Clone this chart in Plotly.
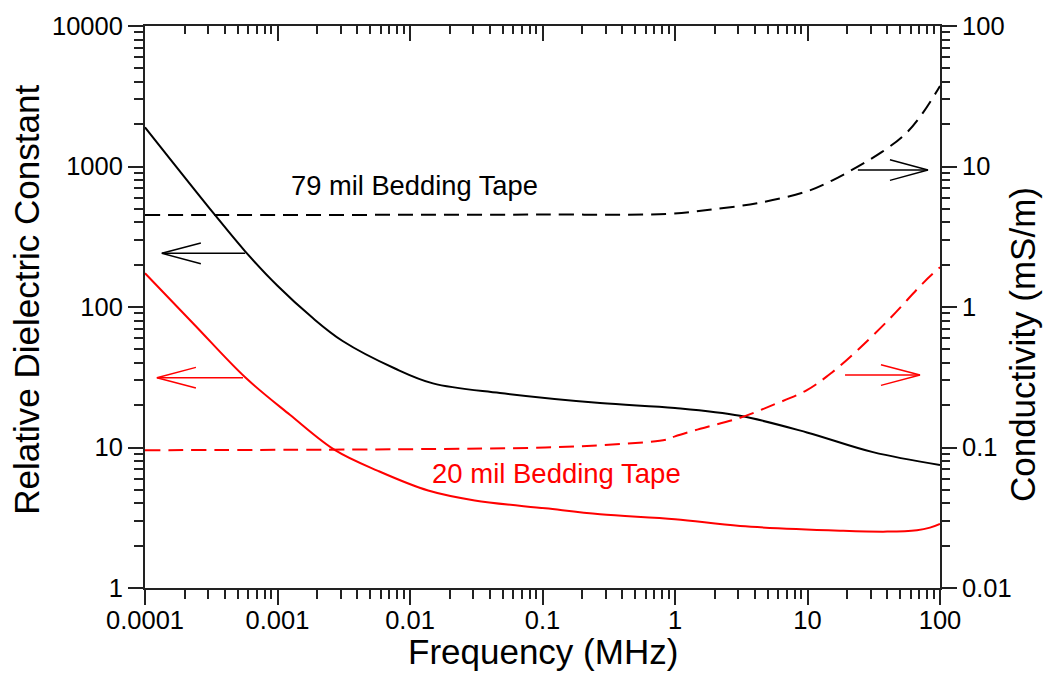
import plotly.graph_objects as go

# ---- measured data -------------------------------------------------------
# 79 mil bedding tape: relative dielectric constant (left axis)
freq_eps79 = [1e-4, 3.37e-4, 5.7e-4, 1e-3, 1.82e-3, 3.1e-3, 7.7e-3, 0.0149, 0.0478,
              0.272, 1.0, 3.1, 9.9, 31.2, 100.0]
eps79 = [1900, 452, 249, 141.5, 84.4, 57.3, 36.5, 28.6, 24.4,
         20.7, 19.1, 16.8, 12.8, 9.27, 7.5]

# 79 mil bedding tape: conductivity in mS/m (right axis)
freq_sig79 = [1e-4, 1e-3, 0.01, 0.1, 0.87, 1.75, 4.16, 9.9, 15.3, 36.5, 56.3, 74.5, 100.0]
sig79 = [4.52, 4.52, 4.53, 4.55, 4.6, 4.9, 5.48, 6.65, 7.94, 12.7, 17.5, 24.2, 37.4]

# 20 mil bedding tape: relative dielectric constant (left axis)
freq_eps20 = [1e-4, 2.38e-4, 5.7e-4, 1.24e-3, 2.72e-3, 5.73e-3, 0.0137, 0.0308, 0.105,
              0.272, 1.0, 3.1, 17.6, 40.0, 67.0, 84.0, 100.0]
eps20 = [174, 74.2, 31.6, 17.1, 9.57, 6.82, 4.94, 4.20, 3.69,
         3.35, 3.09, 2.76, 2.56, 2.52, 2.58, 2.69, 2.86]

# 20 mil bedding tape: conductivity in mS/m (right axis)
freq_sig20 = [1e-4, 8.4e-3, 0.105, 0.272, 0.87, 1.0, 1.55, 3.1, 5.5, 9.9, 15.3,
              23.6, 42.0, 74.5, 100.0]
sig20 = [0.0957, 0.0972, 0.100, 0.1037, 0.114, 0.12, 0.136, 0.163, 0.201, 0.256, 0.342,
         0.488, 0.83, 1.48, 1.92]

x_ticks = [1e-4, 1e-3, 0.01, 0.1, 1, 10, 100]
x_ticktext = ["0.0001", "0.001", "0.01", "0.1", "1", "10", "100"]
yl_ticks = [1, 10, 100, 1000, 10000]
yl_ticktext = ["1", "10", "100", "1000", "10000"]
yr_ticks = [0.01, 0.1, 1, 10, 100]
yr_ticktext = ["0.01", "0.1", "1", "10", "100"]

RED = "#ff0000"
BLACK = "#000000"
AXIS = "#222222"
FONT = "Liberation Sans, Arial, Helvetica, sans-serif"

W, H = 1050, 680
ML, MR, MT, MB = 145, 110, 17, 92
PX_PER_DEC_X = (W - ML - MR) / 6.0   # six decades of frequency
PX_PER_DEC_Y = (H - MT - MB) / 4.0   # four decades on each y axis


def minor_vals(lo_exp, hi_exp):
    return [k * 10.0 ** e for e in range(lo_exp, hi_exp) for k in range(2, 10)]


def arrow_path(tip_f, tip_v, tail_f, head_px=39, half_px=10.5):
    """Open V-head arrow, built in data units on log axes."""
    direction = 1 if tail_f < tip_f else -1
    dlx = head_px / PX_PER_DEC_X
    dly = half_px / PX_PER_DEC_Y
    arm_f = tip_f * 10 ** (-direction * dlx)
    xs = [tail_f, tip_f, None, arm_f, tip_f, arm_f]
    ys = [tip_v, tip_v, None, tip_v * 10 ** dly, tip_v, tip_v * 10 ** (-dly)]
    return xs, ys


fig = go.Figure()

line_common = dict(mode="lines", hoverinfo="skip", showlegend=False)
smooth = dict(shape="spline", smoothing=1.0)
fig.add_trace(go.Scatter(x=freq_eps79, y=eps79, line=dict(color=BLACK, width=2, **smooth), **line_common))
fig.add_trace(go.Scatter(x=freq_eps20, y=eps20, line=dict(color=RED, width=2, **smooth), **line_common))
fig.add_trace(go.Scatter(x=freq_sig79, y=sig79, yaxis="y2", line=dict(color=BLACK, width=2, dash="15px,8px", **smooth), **line_common))
fig.add_trace(go.Scatter(x=freq_sig20, y=sig20, yaxis="y2", line=dict(color=RED, width=2, dash="15px,8px", **smooth), **line_common))

# arrows pointing to the axis each curve belongs to
ax, ay = arrow_path(1.34e-4, 241, 5.7e-4)
fig.add_trace(go.Scatter(x=ax, y=ay, line=dict(color=BLACK, width=1.5), **line_common))
ax, ay = arrow_path(1.23e-4, 31.4, 5.49e-4)
fig.add_trace(go.Scatter(x=ax, y=ay, line=dict(color=RED, width=1.5), **line_common))
ax, ay = arrow_path(81.1, 9.44, 24.0, head_px=38)
fig.add_trace(go.Scatter(x=ax, y=ay, yaxis="y2", line=dict(color=BLACK, width=1.5), **line_common))
ax, ay = arrow_path(70.6, 0.328, 19.2)
fig.add_trace(go.Scatter(x=ax, y=ay, yaxis="y2", line=dict(color=RED, width=1.5), **line_common))

# invisible trace so the mirrored top axis is drawn
fig.add_trace(go.Scatter(x=[1e-3], y=[10], xaxis="x2", mode="markers",
                         marker=dict(opacity=0), hoverinfo="skip", showlegend=False))

tick_font = dict(family=FONT, size=25.5, color=BLACK)
axis_common = dict(type="log", showgrid=False, zeroline=False, showline=True,
                   linecolor=AXIS, linewidth=2, tickcolor=AXIS, tickwidth=2,
                   ticklen=15, tickfont=tick_font)

fig.update_layout(
    width=W, height=H,
    margin=dict(l=ML, r=MR, t=MT, b=MB, pad=0),
    paper_bgcolor="white", plot_bgcolor="white",
    font=dict(family=FONT, color=BLACK),
    xaxis=dict(range=[-4, 2], ticks="outside", tickvals=x_ticks, ticktext=x_ticktext,
               ticklabelstandoff=-7,
               minor=dict(ticks="outside", ticklen=9, tickwidth=2, tickcolor=AXIS,
                          tickvals=minor_vals(-4, 2)),
               **axis_common),
    xaxis2=dict(range=[-4, 2], overlaying="x", side="top", anchor="y", ticks="inside",
                tickvals=x_ticks, showticklabels=False,
                minor=dict(ticks="inside", ticklen=8, tickwidth=2, tickcolor=AXIS,
                           tickvals=minor_vals(-4, 2)),
                **axis_common),
    yaxis=dict(range=[0, 4], ticks="outside", tickvals=yl_ticks, ticktext=yl_ticktext,
               minor=dict(ticks="outside", ticklen=9, tickwidth=2, tickcolor=AXIS,
                          tickvals=minor_vals(0, 4)),
               **axis_common),
    yaxis2=dict(range=[-2, 2], overlaying="y", side="right", anchor="x", ticks="outside",
                tickvals=yr_ticks, ticktext=yr_ticktext,
                minor=dict(ticks="outside", ticklen=8, tickwidth=2, tickcolor=AXIS,
                           tickvals=minor_vals(-2, 2)),
                **axis_common),
)

title_font = dict(family=FONT, size=35, color=BLACK)
fig.add_annotation(text="Frequency (MHz)", xref="paper", yref="paper", x=0.5006, y=-0.1138,
                   xanchor="center", yanchor="middle", showarrow=False, font=title_font)
fig.add_annotation(text="Relative Dielectric Constant", xref="paper", yref="paper",
                   x=-0.1484, y=0.513, xanchor="center", yanchor="middle", textangle=-90,
                   showarrow=False, font=title_font)
fig.add_annotation(text="Conductivity (mS/m)", xref="paper", yref="paper",
                   x=1.1031, y=0.434, xanchor="center", yanchor="middle", textangle=-90,
                   showarrow=False, font=title_font)
fig.add_annotation(text="79 mil Bedding Tape", xref="paper", yref="paper", x=0.3385, y=0.717,
                   xanchor="center", yanchor="middle", showarrow=False,
                   font=dict(family=FONT, size=27.3, color=BLACK))
fig.add_annotation(text="20 mil Bedding Tape", xref="paper", yref="paper", x=0.5176, y=0.2045,
                   xanchor="center", yanchor="middle", showarrow=False,
                   font=dict(family=FONT, size=27.5, color=RED))

fig.write_html("out.html")
